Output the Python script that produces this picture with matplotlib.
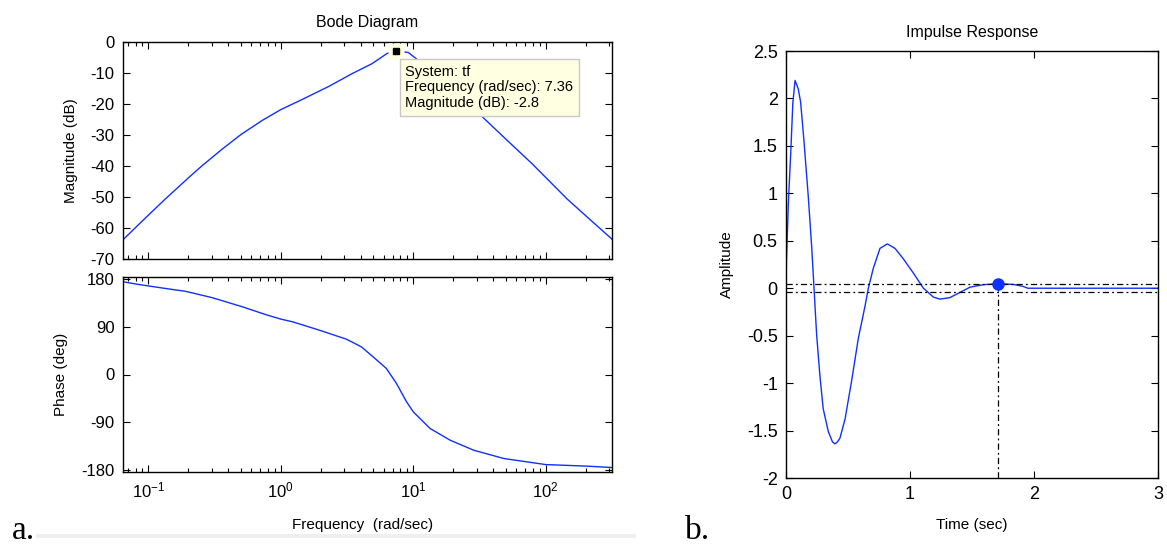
import matplotlib.pyplot as plt
from matplotlib.patches import Rectangle
from matplotlib.ticker import FuncFormatter

plt.rcParams['font.family'] = ['Liberation Sans', 'DejaVu Sans']
plt.rcParams['mathtext.fontset'] = 'custom'
plt.rcParams['mathtext.rm'] = 'Liberation Sans'
plt.rcParams['mathtext.it'] = 'Liberation Sans:italic'
plt.rcParams['axes.unicode_minus'] = False

# Bode magnitude
mag_freq = [0.0643, 0.0891, 0.1337, 0.2056, 0.2512, 0.3548, 0.5012, 0.7295,
            1.0, 1.455, 2.307, 3.451, 4.875, 6.31, 7.36, 9.17, 12.59, 19.95,
            33.5, 51.6, 79.4, 145.4, 223.9, 316.2]
mag_db = [-63.8, -57.9, -50.7, -43.4, -40.1, -34.8, -29.8, -25.2,
          -21.8, -18.5, -14.3, -10.2, -7.0, -3.75, -2.8, -3.4, -8.0, -15.6,
          -24.3, -31.9, -39.4, -50.7, -57.9, -63.6]

# Bode phase
phase_freq = [0.0643, 0.0839, 0.134, 0.1905, 0.303, 0.512, 0.769, 1.0, 1.227,
              1.95, 3.12, 4.055, 4.966, 6.266, 7.464, 8.89, 10.0, 11.91, 13.4,
              18.97, 28.58, 48.3, 100.0, 207.0, 316.2]
phase_deg = [175, 170, 162.4, 157, 145, 127.8, 113, 104.5, 99.4,
             83.7, 66.7, 52.2, 33.4, 11.3, -17, -51.6, -70.5, -89.4, -102,
             -124, -142.9, -158.6, -170, -173, -175.6]

# data tip
tip_freq = 7.36
tip_db = -2.8

# impulse response
imp_t = [0, 0.004, 0.019, 0.038, 0.055, 0.073, 0.099, 0.118, 0.145, 0.18,
         0.207, 0.226, 0.247, 0.274, 0.30, 0.341, 0.375, 0.395, 0.415, 0.435,
         0.476, 0.53, 0.583, 0.637, 0.664, 0.704, 0.758, 0.817, 0.879, 0.946,
         1.027, 1.108, 1.188, 1.24, 1.32, 1.403, 1.484, 1.59, 1.71, 1.833,
         1.91, 1.95, 2.5, 3.0]
imp_amp = [0, 0.3, 0.9, 1.42, 1.95, 2.19, 2.10, 1.96, 1.55, 0.96,
           0.44, 0, -0.49, -0.93, -1.27, -1.51, -1.62, -1.64, -1.62, -1.58,
           -1.38, -0.97, -0.53, -0.19, 0, 0.21, 0.42, 0.467, 0.42, 0.31,
           0.16, 0, -0.093, -0.115, -0.10, -0.044, 0.011, 0.037, 0.048, 0.04,
           0.02, 0.0, 0.0, 0.0]

settle_t = 1.71
settle_amp = 0.048
settle_band = 0.044

blue = '#1030ff'
dashdot = (0, (5, 2.5, 1.5, 2.5))

W, H = 1167, 550
fig = plt.figure(figsize=(W / 100, H / 100), dpi=100)

ax_mag = fig.add_axes([123 / W, 1 - 259 / H, 489 / W, 217 / H])
ax_ph = fig.add_axes([123 / W, 1 - 472 / H, 489 / W, 195 / H], sharex=ax_mag)
ax_imp = fig.add_axes([786 / W, 1 - 478 / H, 372 / W, 427 / H])


def matlab_look(ax, size):
    ax.tick_params(which='both', direction='in', top=True, right=True,
                   labelsize=size, width=0.8, pad=6)
    ax.tick_params(which='major', length=5)
    ax.tick_params(which='minor', length=3)
    for s in ax.spines.values():
        s.set_linewidth(1.0)


# magnitude
ax_mag.semilogx(mag_freq, mag_db, color=blue, lw=1)
ax_mag.set_xlim(0.0643, 316.2)
ax_mag.set_ylim(-70, 0)
ax_mag.set_yticks(range(-70, 1, 10))
matlab_look(ax_mag, 12)
ax_mag.tick_params(labelbottom=False)
ax_mag.set_title('Bode Diagram', fontsize=11.5, y=(259 - 23) / 217, va='center', pad=0)
ax_mag.set_ylabel('Magnitude (dB)', fontsize=11, va='center')
ax_mag.yaxis.set_label_coords((71 - 123) / 489, 0.5)

ax_mag.plot(tip_freq, tip_db, 's', ms=11, mfc='#ffffe1', mec='none', zorder=4, clip_on=False)
ax_mag.plot(tip_freq, tip_db, 's', ms=5, color='k', zorder=6, clip_on=False)
ax_mag.annotate(f'System: tf\nFrequency (rad/sec): {tip_freq}\nMagnitude (dB): {tip_db}',
                xy=(tip_freq, tip_db), xytext=(7, -10), textcoords='offset points',
                ha='left', va='top', fontsize=10.5, linespacing=1.15,
                bbox=dict(boxstyle='square,pad=0.4', fc='#ffffe1', ec='#c8c8c8', lw=1),
                zorder=5)

# phase
ax_ph.semilogx(phase_freq, phase_deg, color=blue, lw=1)
ax_ph.set_ylim(-184, 184)
ax_ph.set_yticks([-180, -90, 0, 90, 180])
matlab_look(ax_ph, 12)
ax_ph.set_ylabel('Phase (deg)', fontsize=11, va='center')
ax_ph.yaxis.set_label_coords((61 - 123) / 489, 0.5)
ax_ph.set_xlabel('Frequency  (rad/sec)', fontsize=11, va='center')
ax_ph.xaxis.set_label_coords(0.49, (472 - 525) / 195)

# impulse response
ax_imp.plot(imp_t, imp_amp, color=blue, lw=1)
ax_imp.axhline(settle_band, color='k', lw=0.9, ls=dashdot)
ax_imp.axhline(-settle_band, color='k', lw=0.9, ls=dashdot)
ax_imp.plot([settle_t, settle_t], [-2, settle_amp], color='k', lw=0.9, ls=dashdot)
ax_imp.plot(settle_t, settle_amp, 'o', ms=8, color=blue, zorder=5)
ax_imp.set_xlim(0, 3)
ax_imp.set_ylim(-2, 2.5)
ax_imp.set_xticks([0, 1, 2, 3])
ax_imp.set_yticks([-2, -1.5, -1, -0.5, 0, 0.5, 1, 1.5, 2, 2.5])
ax_imp.yaxis.set_major_formatter(FuncFormatter(lambda v, p: '%g' % v))
matlab_look(ax_imp, 13)
ax_imp.set_title('Impulse Response', fontsize=11.5, y=(478 - 33) / 427, va='center', pad=0)
ax_imp.set_ylabel('Amplitude', fontsize=11, va='center')
ax_imp.yaxis.set_label_coords((727 - 786) / 372, 0.5)
ax_imp.set_xlabel('Time (sec)', fontsize=11, va='center')
ax_imp.xaxis.set_label_coords(0.5, (478 - 524.6) / 427)

# panel letters and the grey rule
fig.text(12 / W, 1 - 539 / H, 'a.', family='Liberation Serif', fontsize=24, va='baseline')
fig.text(685 / W, 1 - 539 / H, 'b.', family='Liberation Serif', fontsize=24, va='baseline')
fig.add_artist(Rectangle((36 / W, 1 - 538 / H), (636 - 36) / W, 4 / H,
                         transform=fig.transFigure, fc='#efefef', ec='none'))

fig.savefig('out.png', dpi=100)
